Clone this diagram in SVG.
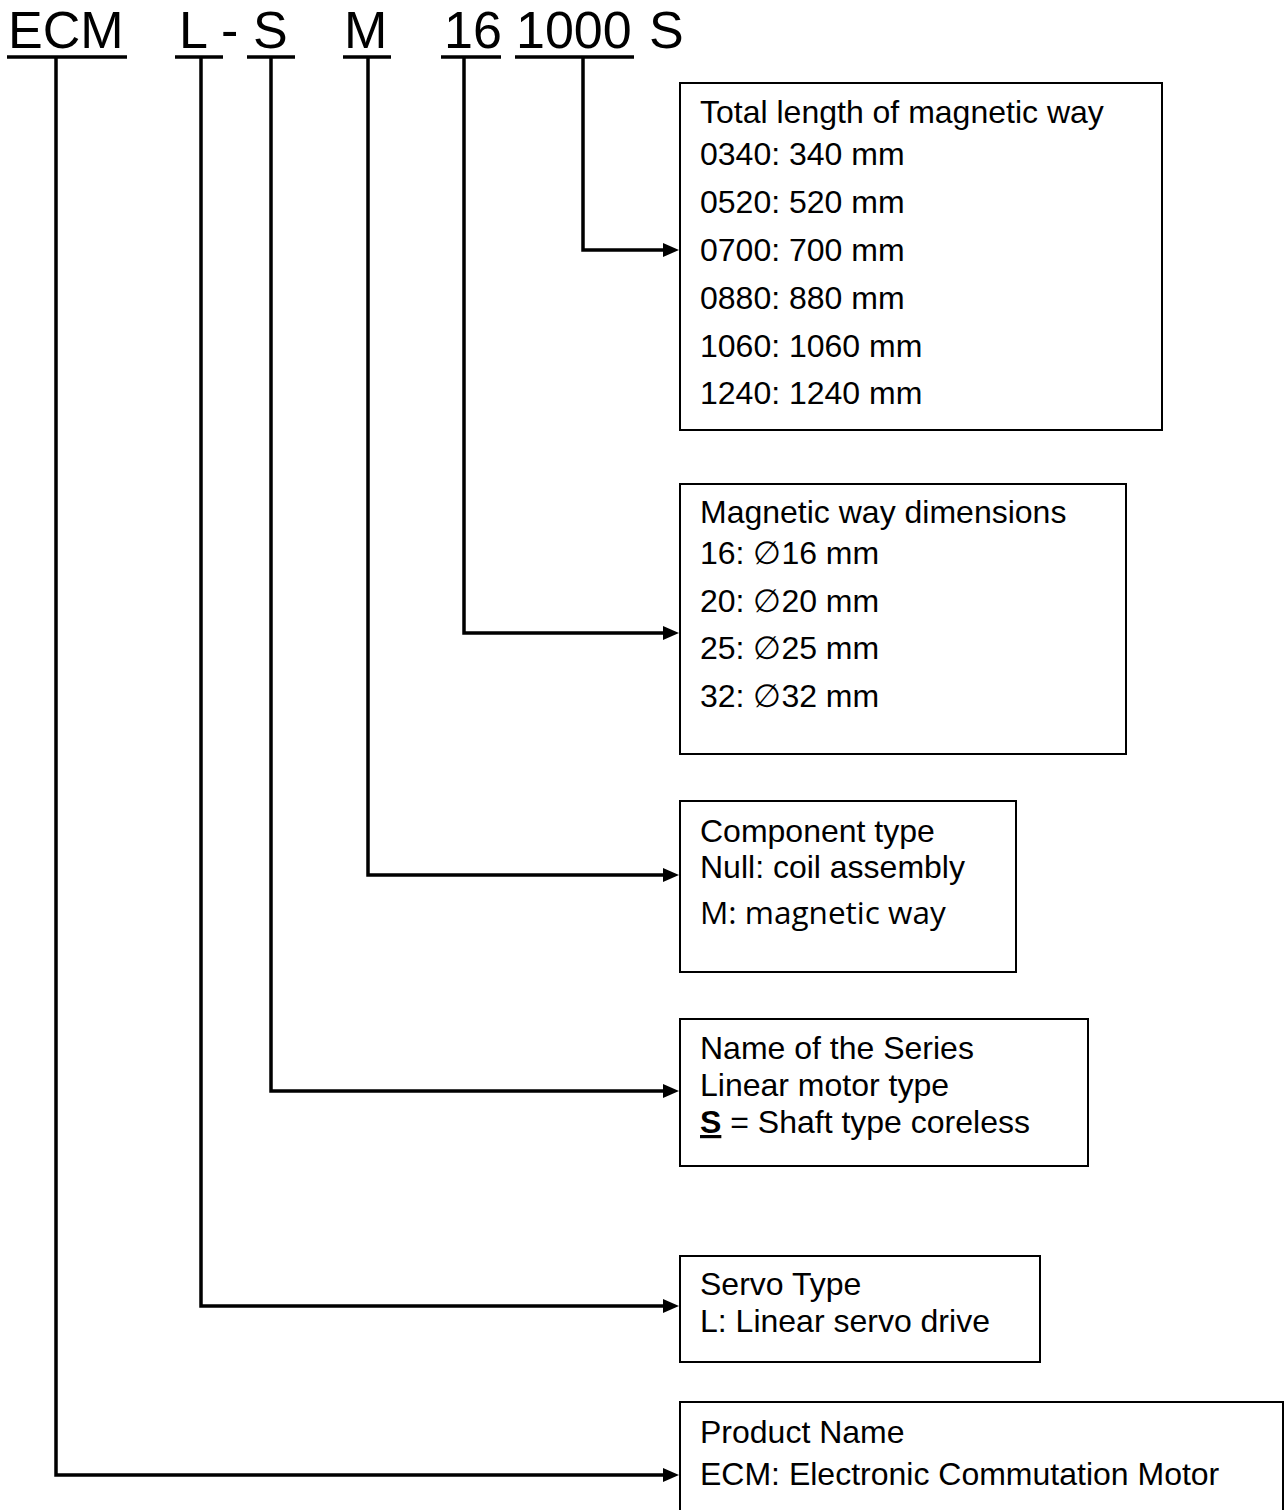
<svg xmlns="http://www.w3.org/2000/svg" width="1285" height="1510" viewBox="0 0 1285 1510">
  <style>
    .title { font-family: "Liberation Sans", Arial, sans-serif; font-size: 52px; fill: #000; }
    .t { font-family: "Liberation Sans", Arial, sans-serif; font-size: 32px; fill: #000; }
    .seg { font-family: "Open Sans", "Noto Sans", sans-serif; font-size: 31.5px; fill: #000; }
    .phi { font-family: "DejaVu Sans", sans-serif; font-weight: 200; }
    .box { fill: #fff; stroke: #000; stroke-width: 2; }
    .ul { stroke: #000; stroke-width: 3.5; }
    .conn { fill: none; stroke: #000; stroke-width: 3.5; stroke-linejoin: miter; }
  </style>
  <defs>
    <marker id="arrow" markerUnits="userSpaceOnUse" markerWidth="16" markerHeight="14" refX="8" refY="7" orient="auto">
      <path d="M0,0 L16,7 L0,14 z" fill="#000"/>
    </marker>
  </defs>
  <rect width="1285" height="1510" fill="#fff"/>

  <g id="title">
    <text class="title" x="8" y="48">ECM</text>
    <text class="title" x="179" y="48">L</text>
    <text class="title" x="221" y="48">-</text>
    <text class="title" x="253" y="48">S</text>
    <text class="title" x="344" y="48">M</text>
    <text class="title" x="444" y="48">16</text>
    <text class="title" x="516" y="48">1000</text>
    <text class="title" x="649" y="48">S</text>
    <line class="ul" x1="7" y1="57" x2="127" y2="57"/>
    <line class="ul" x1="175" y1="57" x2="223" y2="57"/>
    <line class="ul" x1="247" y1="57" x2="295" y2="57"/>
    <line class="ul" x1="343" y1="57" x2="391" y2="57"/>
    <line class="ul" x1="441" y1="57" x2="501" y2="57"/>
    <line class="ul" x1="515" y1="57" x2="634" y2="57"/>
  </g>

  <g id="connectors">
    <path class="conn" d="M583,57 V250 H671" marker-end="url(#arrow)"/>
    <path class="conn" d="M464,57 V633 H671" marker-end="url(#arrow)"/>
    <path class="conn" d="M368,57 V875 H671" marker-end="url(#arrow)"/>
    <path class="conn" d="M271,57 V1091 H671" marker-end="url(#arrow)"/>
    <path class="conn" d="M201,57 V1306 H671" marker-end="url(#arrow)"/>
    <path class="conn" d="M56,57 V1475 H671" marker-end="url(#arrow)"/>
  </g>

  <g id="node-length">
    <rect class="box" x="680" y="83" width="482" height="347"/>
    <text class="t" x="700" y="123">Total length of magnetic way</text>
    <text class="t" x="700" y="165">0340: 340 mm</text>
    <text class="t" x="700" y="213">0520: 520 mm</text>
    <text class="t" x="700" y="261">0700: 700 mm</text>
    <text class="t" x="700" y="309">0880: 880 mm</text>
    <text class="t" x="700" y="357">1060: 1060 mm</text>
    <text class="t" x="700" y="404">1240: 1240 mm</text>
  </g>

  <g id="node-dimensions">
    <rect class="box" x="680" y="484" width="446" height="270"/>
    <text class="t" x="700" y="523">Magnetic way dimensions</text>
    <text class="t" x="700" y="564">16: <tspan class="phi">∅</tspan>16 mm</text>
    <text class="t" x="700" y="612">20: <tspan class="phi">∅</tspan>20 mm</text>
    <text class="t" x="700" y="659">25: <tspan class="phi">∅</tspan>25 mm</text>
    <text class="t" x="700" y="707">32: <tspan class="phi">∅</tspan>32 mm</text>
  </g>

  <g id="node-component">
    <rect class="box" x="680" y="801" width="336" height="171"/>
    <text class="t" x="700" y="842">Component type</text>
    <text class="t" x="700" y="878">Null: coil assembly</text>
    <text class="seg" x="700" y="924">M: magnetic way</text>
  </g>

  <g id="node-series">
    <rect class="box" x="680" y="1019" width="408" height="147"/>
    <text class="t" x="700" y="1059">Name of the Series</text>
    <text class="t" x="700" y="1096">Linear motor type</text>
    <text class="t" x="700" y="1133"><tspan font-weight="bold" text-decoration="underline">S</tspan> = Shaft type coreless</text>
  </g>

  <g id="node-servo">
    <rect class="box" x="680" y="1256" width="360" height="106"/>
    <text class="t" x="700" y="1295">Servo Type</text>
    <text class="t" x="700" y="1332">L: Linear servo drive</text>
  </g>

  <g id="node-product">
    <rect class="box" x="680" y="1402" width="603" height="120"/>
    <text class="t" x="700" y="1443">Product Name</text>
    <text class="t" x="700" y="1485">ECM: Electronic Commutation Motor</text>
  </g>
</svg>
